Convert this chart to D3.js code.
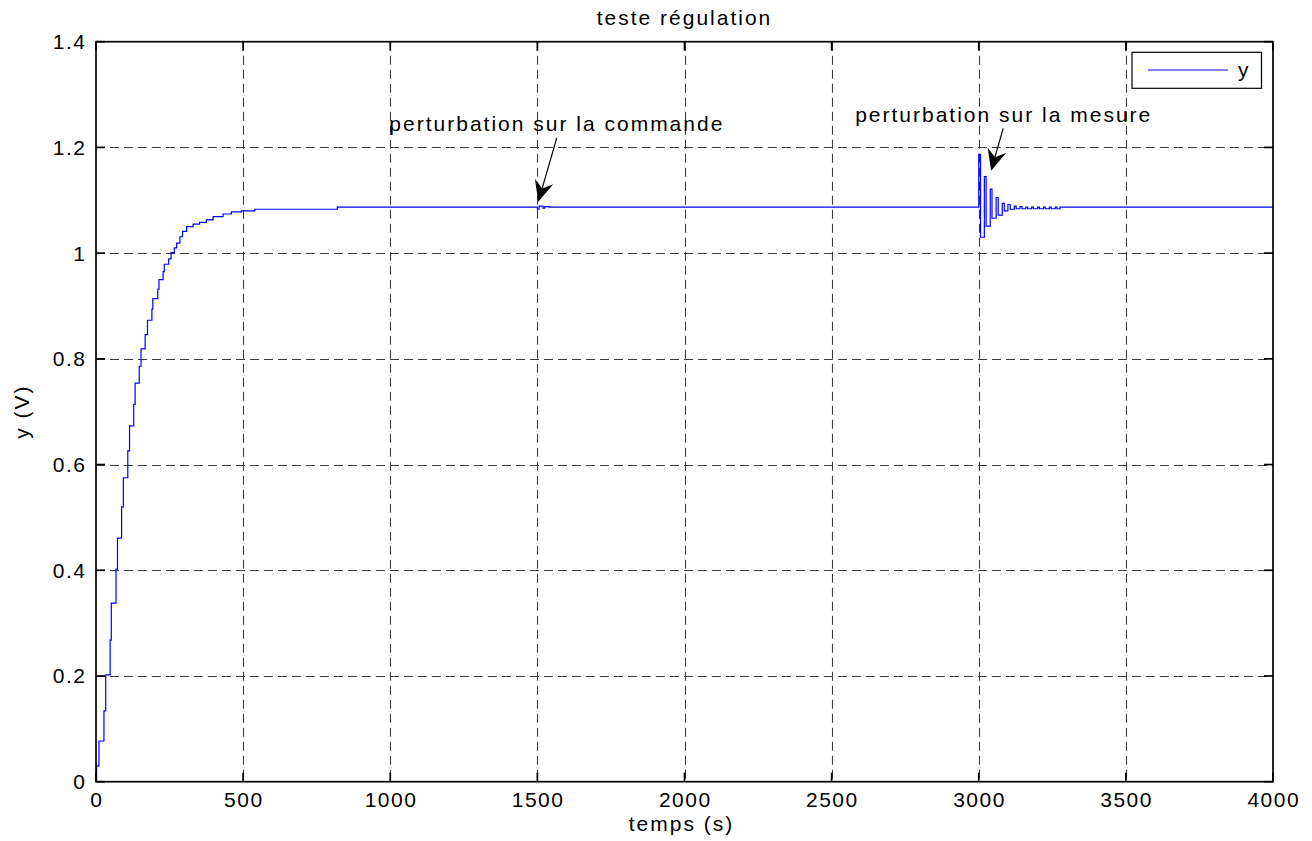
<!DOCTYPE html>
<html>
<head>
<meta charset="utf-8">
<script src="https://cdn.jsdelivr.net/npm/d3@7"></script>
<style>
body { margin: 0; background: #fff; }
text { font-family: "Liberation Sans", Arial, Helvetica, sans-serif; fill: #000; }
</style>
</head>
<body>
<div id="chart"></div>
<script>
// step response of the loop (t in s, y in V)
var riseT = [0, 2, 10, 27, 33, 48, 52, 68, 73, 87, 93, 108, 114, 128, 133, 147, 153, 167, 175, 190,
             193, 210, 214, 228, 232, 247, 255, 266, 274, 285, 294, 308, 330, 352, 375, 398, 432, 460, 494, 540, 820];
var riseY = [0, 0.03, 0.077, 0.134, 0.202, 0.268, 0.338, 0.402, 0.461, 0.520, 0.575, 0.626, 0.673, 0.714, 0.754, 0.786, 0.819, 0.846, 0.873, 0.894,
             0.914, 0.932, 0.950, 0.965, 0.979, 0.989, 1.001, 1.010, 1.019, 1.031, 1.041, 1.050, 1.055, 1.058, 1.063, 1.069, 1.074, 1.078, 1.080, 1.083, 1.087];

// perturbation sur la commande (t = 1500)
var cmdT = [1500, 1506, 1519, 1525, 1540];
var cmdY = [1.083, 1.089, 1.085, 1.088, 1.087];

// perturbation sur la mesure (t = 3000)
var mesT = [3000, 3006, 3019, 3025, 3039, 3045, 3059, 3066, 3080, 3087, 3099, 3107, 3121, 3127, 3140,
            3147, 3160, 3166, 3180, 3186, 3200, 3206, 3220, 3226, 3240, 3246, 3260, 3266, 3276, 4000];
var mesY = [1.187, 1.030, 1.145, 1.051, 1.121, 1.066, 1.105, 1.072, 1.094, 1.080, 1.092, 1.083, 1.089, 1.084, 1.088,
            1.084, 1.087, 1.084, 1.087, 1.084, 1.087, 1.084, 1.087, 1.084, 1.087, 1.084, 1.087, 1.084, 1.087, 1.087];

var xTicks = [0, 500, 1000, 1500, 2000, 2500, 3000, 3500, 4000];
var yTicks = [0, 0.2, 0.4, 0.6, 0.8, 1, 1.2, 1.4];
var yTickLabels = ["0", "0.2", "0.4", "0.6", "0.8", "1", "1.2", "1.4"];

var seriesName = "y";
var titleText = "teste régulation";
var xLabel = "temps (s)";
var yLabel = "y (V)";

// annotation text anchor and arrow tail/tip, in data units
var notes = [
  {text: "perturbation sur la commande", tx: 997, ty: 1.231, x0: 1566, y0: 1.218, x1: 1503, y1: 1.097},
  {text: "perturbation sur la mesure", tx: 2580, ty: 1.249, x0: 3083, y0: 1.236, x1: 3042, y1: 1.156}
];

(function() {
  var W = 1312, H = 841;
  var plotL = 96, plotT = 41.7, plotR = 1273, plotB = 781.7;

  var data = [];
  function addSeg(ts, ys) {
    for (var i = 0; i < ts.length; i++) data.push({x: ts[i], y: ys[i]});
  }
  addSeg(riseT, riseY);
  addSeg(cmdT, cmdY);
  addSeg(mesT, mesY);

  var x = d3.scaleLinear().domain([0, 4000]).range([plotL, plotR]);
  var y = d3.scaleLinear().domain([0, 1.4]).range([plotB, plotT]);

  var svg = d3.select("#chart").append("svg")
      .attr("width", W)
      .attr("height", H)
      .style("display", "block");

  svg.append("rect").attr("width", W).attr("height", H).attr("fill", "#fff");

  // grid
  var grid = svg.append("g")
      .attr("stroke", "#3c3c3c")
      .attr("stroke-width", 1.1)
      .attr("stroke-dasharray", "9,5");
  grid.selectAll(".gx").data(xTicks.slice(1, -1)).enter().append("line")
      .attr("x1", function(d) { return Math.round(x(d)) + 0.5; })
      .attr("x2", function(d) { return Math.round(x(d)) + 0.5; })
      .attr("y1", plotT).attr("y2", plotB);
  grid.selectAll(".gy").data(yTicks.slice(1, -1)).enter().append("line")
      .attr("y1", function(d) { return Math.round(y(d)) + 0.5; })
      .attr("y2", function(d) { return Math.round(y(d)) + 0.5; })
      .attr("x1", plotL).attr("x2", plotR);

  // the signal
  var line = d3.line()
      .x(function(d) { return x(d.x); })
      .y(function(d) { return y(d.y); })
      .curve(d3.curveStepAfter);

  svg.append("path")
      .datum(data)
      .attr("fill", "none")
      .attr("stroke", "#0000ff")
      .attr("stroke-width", 1.2)
      .attr("d", line);

  // frame + inward ticks on all four sides
  var tickLen = 9;
  var frame = svg.append("g").attr("stroke", "#000").attr("stroke-width", 1.7);
  frame.append("rect")
      .attr("x", plotL).attr("y", plotT)
      .attr("width", plotR - plotL).attr("height", plotB - plotT)
      .attr("fill", "none");
  xTicks.forEach(function(t) {
    frame.append("line").attr("x1", x(t)).attr("x2", x(t)).attr("y1", plotB).attr("y2", plotB - tickLen);
    frame.append("line").attr("x1", x(t)).attr("x2", x(t)).attr("y1", plotT).attr("y2", plotT + tickLen);
  });
  yTicks.forEach(function(t) {
    frame.append("line").attr("y1", y(t)).attr("y2", y(t)).attr("x1", plotL).attr("x2", plotL + tickLen);
    frame.append("line").attr("y1", y(t)).attr("y2", y(t)).attr("x1", plotR).attr("x2", plotR - tickLen);
  });

  // tick labels
  svg.selectAll(".xl").data(xTicks).enter().append("text")
      .attr("x", function(d) { return x(d) + 0.75; })
      .attr("y", plotB + 25)
      .attr("text-anchor", "middle")
      .style("font-size", "21px")
      .style("letter-spacing", "1.5px")
      .text(function(d) { return d; });

  svg.selectAll(".yl").data(yTicks).enter().append("text")
      .attr("x", plotL - 9.5)
      .attr("y", function(d) { return y(d) + 7.5; })
      .attr("text-anchor", "end")
      .style("font-size", "21px")
      .style("letter-spacing", "1.5px")
      .text(function(d, i) { return yTickLabels[i]; });

  // title and axis labels
  svg.append("text")
      .attr("x", (plotL + plotR) / 2)
      .attr("y", 25)
      .attr("text-anchor", "middle")
      .style("font-size", "21px")
      .style("letter-spacing", "2px")
      .text(titleText);

  svg.append("text")
      .attr("x", (plotL + plotR) / 2 - 3)
      .attr("y", 831)
      .attr("text-anchor", "middle")
      .style("font-size", "21px")
      .style("letter-spacing", "2px")
      .text(xLabel);

  svg.append("text")
      .attr("transform", "translate(29," + ((plotT + plotB) / 2) + ") rotate(-90)")
      .attr("text-anchor", "middle")
      .style("font-size", "21px")
      .style("letter-spacing", "2px")
      .text(yLabel);

  // annotations with notched filled arrowheads
  notes.forEach(function(n) {
    svg.append("text")
        .attr("x", x(n.tx))
        .attr("y", y(n.ty))
        .style("font-size", "21px")
        .style("letter-spacing", "2px")
        .text(n.text);

    var px0 = x(n.x0), py0 = y(n.y0), px1 = x(n.x1), py1 = y(n.y1);
    var dx = px1 - px0, dy = py1 - py0, len = Math.sqrt(dx * dx + dy * dy);
    var ux = dx / len, uy = dy / len;     // along arrow
    var vx = -uy, vy = ux;                // perpendicular
    var headL = 21, headW = 9.5, notch = 14;
    svg.append("line")
        .attr("x1", px0).attr("y1", py0)
        .attr("x2", px1 - ux * notch).attr("y2", py1 - uy * notch)
        .attr("stroke", "#000").attr("stroke-width", 1.2);
    var pts = [
      [px1, py1],
      [px1 - ux * headL + vx * headW, py1 - uy * headL + vy * headW],
      [px1 - ux * notch, py1 - uy * notch],
      [px1 - ux * headL - vx * headW, py1 - uy * headL - vy * headW]
    ];
    svg.append("polygon")
        .attr("points", pts.map(function(p) { return p.join(","); }).join(" "))
        .attr("fill", "#000");
  });

  // legend
  var lg = svg.append("g").attr("transform", "translate(" + (plotR - 141) + "," + (plotT + 10.6) + ")");
  lg.append("rect")
      .attr("width", 129.5).attr("height", 36)
      .attr("fill", "#fff").attr("stroke", "#000").attr("stroke-width", 1.2);
  lg.append("line")
      .attr("x1", 16).attr("x2", 96).attr("y1", 17.7).attr("y2", 17.7)
      .attr("stroke", "#0000ff").attr("stroke-width", 1.1);
  lg.append("text")
      .attr("x", 106).attr("y", 25)
      .style("font-size", "21px")
      .text(seriesName);
})();
</script>
</body>
</html>
